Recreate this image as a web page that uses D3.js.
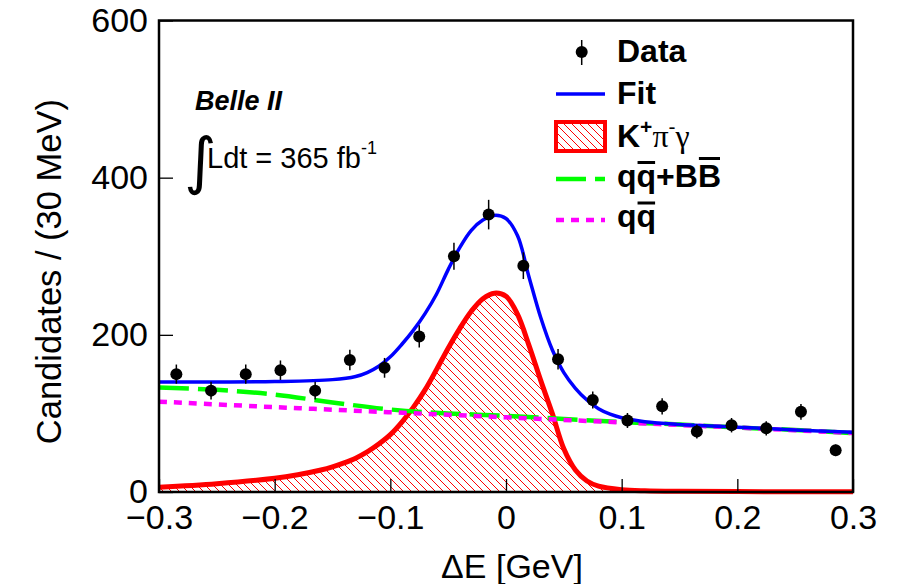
<!DOCTYPE html>
<html>
<head>
<meta charset="utf-8">
<script src="https://cdn.jsdelivr.net/npm/d3@7"></script>
<style>
  body { margin: 0; background: #fff; }
  text { font-family: "Liberation Sans", Arial, Helvetica, sans-serif; fill: #000; }
</style>
</head>
<body>
<svg width="902" height="584"></svg>
<script>
// Delta E distribution, data + fit components

// data points (bin centres, counts, errors)
var binX   = [-0.285, -0.255, -0.225, -0.195, -0.165, -0.135, -0.105, -0.075, -0.045, -0.015,
               0.015,  0.045,  0.075,  0.105,  0.135,  0.165,  0.195,  0.225,  0.255,  0.285];
var counts = [150, 129, 150, 155, 129, 168, 158, 198, 300, 353,
              288, 169, 117,  91, 109,  77,  85,  81, 102,  53];
var errs   = [12.2, 11.4, 12.2, 12.4, 11.4, 13.0, 12.6, 14.1, 17.3, 18.8,
              17.0, 13.0, 10.8,  9.5, 10.4,  8.8,  9.2,  9.0, 10.1,  7.3];

// fit curves
var fitX = [-0.30, -0.25, -0.20, -0.15, -0.13, -0.12, -0.11, -0.10, -0.09, -0.08, -0.07, -0.06,
            -0.05, -0.04, -0.03, -0.02, -0.01, 0.00, 0.01, 0.02, 0.03, 0.04, 0.05, 0.06,
             0.07, 0.08, 0.09, 0.10, 0.12, 0.15, 0.20, 0.25, 0.30];
var fitY = [140, 140, 140.5, 143, 147, 152, 160, 172, 188, 206, 227, 252,
            283, 311, 333, 346, 352, 348, 326, 273, 222, 181, 152, 132,
            117, 106, 99, 94.5, 89.5, 86, 82.5, 79, 76];

var sigX = [-0.30, -0.25, -0.20, -0.18, -0.16, -0.15, -0.14, -0.13, -0.12, -0.11, -0.10, -0.09,
            -0.08, -0.07, -0.06, -0.05, -0.04, -0.03, -0.02, -0.01, 0.00, 0.01, 0.02, 0.03,
             0.04, 0.05, 0.06, 0.07, 0.08, 0.10, 0.12, 0.15, 0.20, 0.30];
var sigY = [6, 10.5, 17.5, 22, 28, 32, 37, 43, 51, 61, 73, 89,
            108, 130, 156, 183, 208, 230, 246, 253, 249, 226, 186, 142,
            100, 55, 28, 14, 7.5, 3, 1.5, 0.8, 0.5, 0.3];

var bkgX = [-0.30, -0.25, -0.20, -0.15, -0.10, -0.05, 0.00, 0.05, 0.10, 0.15, 0.20, 0.25, 0.30];
var bkgY = [133, 130, 124, 114, 105, 100, 97, 93, 89, 86, 82, 79, 75];

var qqX = [-0.30, -0.20, -0.10, 0.00, 0.10, 0.20, 0.30];
var qqY = [115, 108, 101.5, 95, 88.5, 82, 75];

var xMajor = [-0.3, -0.2, -0.1, 0, 0.1, 0.2, 0.3];
var yMajor = [0, 200, 400, 600];

var svg = d3.select("svg");

var x = d3.scaleLinear().domain([-0.3, 0.3]).range([159, 853]);
var y = d3.scaleLinear().domain([0, 600]).range([492, 20.5]);

// hatch for the signal component
var defs = svg.append("defs");
var pat = defs.append("pattern")
    .attr("id", "hatch")
    .attr("patternUnits", "userSpaceOnUse")
    .attr("width", 8).attr("height", 8);
pat.append("path")
    .attr("d", "M0,0 L8,8 M-1,7 L1,9 M7,-1 L9,1")
    .style("stroke", "#ff0000")
    .style("stroke-width", 1);

function pts(xs, ys) { return xs.map(function(v, i) { return [v, ys[i]]; }); }

var smooth = d3.curveCatmullRom.alpha(0.5);
var line = d3.line()
    .x(function(d) { return x(d[0]); })
    .y(function(d) { return y(d[1]); })
    .curve(smooth);
var area = d3.area()
    .x(function(d) { return x(d[0]); })
    .y0(y(0))
    .y1(function(d) { return y(d[1]); })
    .curve(smooth);

var plot = svg.append("g");

plot.append("path")
    .attr("d", area(pts(sigX, sigY)))
    .style("fill", "url(#hatch)");
plot.append("path")
    .attr("d", line(pts(sigX, sigY)))
    .style("fill", "none").style("stroke", "#ff0000").style("stroke-width", 5);
plot.append("path")
    .attr("d", line(pts(bkgX, bkgY)))
    .style("fill", "none").style("stroke", "#00ff00").style("stroke-width", 4.5)
    .style("stroke-dasharray", "30,9");
plot.append("path")
    .attr("d", line(pts(qqX, qqY)))
    .style("fill", "none").style("stroke", "#ff00ff").style("stroke-width", 4.5)
    .style("stroke-dasharray", "8,7");
plot.append("path")
    .attr("d", line(pts(fitX, fitY)))
    .style("fill", "none").style("stroke", "#0000ff").style("stroke-width", 3.5);

// data points with error bars
var pg = plot.selectAll("g.pt").data(pts(binX, counts)).enter().append("g");
pg.append("line")
    .attr("x1", function(d) { return x(d[0]); })
    .attr("x2", function(d) { return x(d[0]); })
    .attr("y1", function(d, i) { return y(d[1] - errs[i]); })
    .attr("y2", function(d, i) { return y(d[1] + errs[i]); })
    .style("stroke", "#000").style("stroke-width", 1.5);
pg.append("circle")
    .attr("cx", function(d) { return x(d[0]); })
    .attr("cy", function(d) { return y(d[1]); })
    .attr("r", 6)
    .style("fill", "#000");

// axes, ticks inside
var fmtX = function(d) { return d === 0 ? "0" : d3.format(".1f")(d); };
var fmtY = d3.format("d");
var xMinor = d3.range(-0.3, 0.3001, 0.02).filter(function(v) { return Math.abs(Math.round(v * 10) - v * 10) > 1e-6; });
var yMinor = d3.range(0, 601, 50).filter(function(v) { return v % 200 !== 0; });

var gx = svg.append("g").attr("transform", "translate(0," + y(0) + ")");
gx.call(d3.axisBottom(x).tickValues(xMinor).tickSize(-7).tickSizeOuter(0).tickFormat(""));
gx.call(d3.axisBottom(x).tickValues(xMajor).tickSize(-13).tickSizeOuter(0).tickPadding(13).tickFormat(fmtX));

var gy = svg.append("g").attr("transform", "translate(" + x(-0.3) + ",0)");
gy.call(d3.axisLeft(y).tickValues(yMinor).tickSize(-7).tickSizeOuter(0).tickFormat(""));
gy.call(d3.axisLeft(y).tickValues(yMajor).tickSize(-14).tickSizeOuter(0).tickPadding(11).tickFormat(fmtY));

svg.selectAll(".tick line").style("stroke", "#000").style("stroke-width", 1.3);
svg.selectAll(".domain").style("stroke", "none");
svg.selectAll(".tick text").style("font-size", "34px").style("font-family", '"Liberation Sans", Arial, sans-serif');

// frame
svg.append("rect")
    .attr("x", x(-0.3)).attr("y", y(600))
    .attr("width", x(0.3) - x(-0.3)).attr("height", y(0) - y(600))
    .style("fill", "none").style("stroke", "#000").style("stroke-width", 2.5);

// axis titles
svg.append("text")
    .attr("x", 512).attr("y", 578)
    .style("text-anchor", "middle").style("font-size", "34px")
    .text("\u0394E [GeV]");
svg.append("text")
    .attr("transform", "translate(61,99) rotate(-90)")
    .style("text-anchor", "end").style("font-size", "34.5px")
    .text("Candidates / (30 MeV)");

// text made of pieces (superscripts, serif greek, overbars)
function rich(g, x0, y0, parts) {
  var cx = x0;
  parts.forEach(function(p) {
    var t = g.append("text")
        .attr("x", cx)
        .attr("y", y0 - (p.sup ? p.sup : 0))
        .style("font-size", p.size + "px")
        .style("font-weight", p.bold ? "bold" : "normal")
        .style("font-style", p.italic ? "italic" : "normal")
        .text(p.t);
    if (p.serif) t.style("font-family", '"Liberation Serif", "Times New Roman", serif');
    var w = t.node().getComputedTextLength();
    if (p.bar) {
      g.append("line")
          .attr("x1", cx + 1).attr("x2", cx + w - 1)
          .attr("y1", y0 - p.bar).attr("y2", y0 - p.bar)
          .style("stroke", "#000").style("stroke-width", 3);
    }
    cx += w + (p.dx || 0);
  });
}

// Belle II label
var lab = svg.append("g");
lab.append("text")
    .attr("x", 195).attr("y", 110)
    .style("font-size", "27px").style("font-weight", "bold").style("font-style", "italic")
    .text("Belle II");
lab.append("text")
    .attr("x", 184).attr("y", 182)
    .style("font-size", "62px")
    .style("font-family", '"DejaVu Sans", sans-serif')
    .text("\u222B");
rich(lab, 207, 168, [
  {t: "Ldt = 365 fb", size: 29},
  {t: "-1", size: 18, sup: 14}
]);

// legend
var leg = svg.append("g");
var lx = 617;
var fs = 32;
leg.append("line").attr("x1", 581.7).attr("x2", 581.7).attr("y1", 40).attr("y2", 65)
    .style("stroke", "#000").style("stroke-width", 1.5);
leg.append("circle").attr("cx", 581.7).attr("cy", 52).attr("r", 6).style("fill", "#000");
rich(leg, lx, 61.5, [{t: "Data", size: fs, bold: true}]);

leg.append("line").attr("x1", 556).attr("x2", 605).attr("y1", 94).attr("y2", 94)
    .style("stroke", "#0000ff").style("stroke-width", 3.5);
rich(leg, lx, 103.5, [{t: "Fit", size: fs, bold: true}]);

leg.append("rect").attr("x", 556).attr("y", 122).attr("width", 49).attr("height", 29)
    .style("fill", "url(#hatch)").style("stroke", "#ff0000").style("stroke-width", 4);
rich(leg, lx, 146.5, [
  {t: "K", size: fs, bold: true},
  {t: "+", size: 21, bold: true, sup: 13},
  {t: "\u03C0", size: fs, serif: true},
  {t: "-", size: 21, sup: 13},
  {t: "\u03B3", size: fs, serif: true}
]);

leg.append("line").attr("x1", 556).attr("x2", 605).attr("y1", 179).attr("y2", 179)
    .style("stroke", "#00ff00").style("stroke-width", 4.5).style("stroke-dasharray", "30,9");
rich(leg, lx, 186.5, [
  {t: "q", size: fs, bold: true},
  {t: "q", size: fs, bold: true, bar: 24},
  {t: "+B", size: fs, bold: true},
  {t: "B", size: fs, bold: true, bar: 28}
]);

leg.append("line").attr("x1", 556).attr("x2", 605).attr("y1", 220).attr("y2", 220)
    .style("stroke", "#ff00ff").style("stroke-width", 4.5).style("stroke-dasharray", "8,7");
rich(leg, lx, 227, [
  {t: "q", size: fs, bold: true},
  {t: "q", size: fs, bold: true, bar: 24}
]);
</script>
</body>
</html>
